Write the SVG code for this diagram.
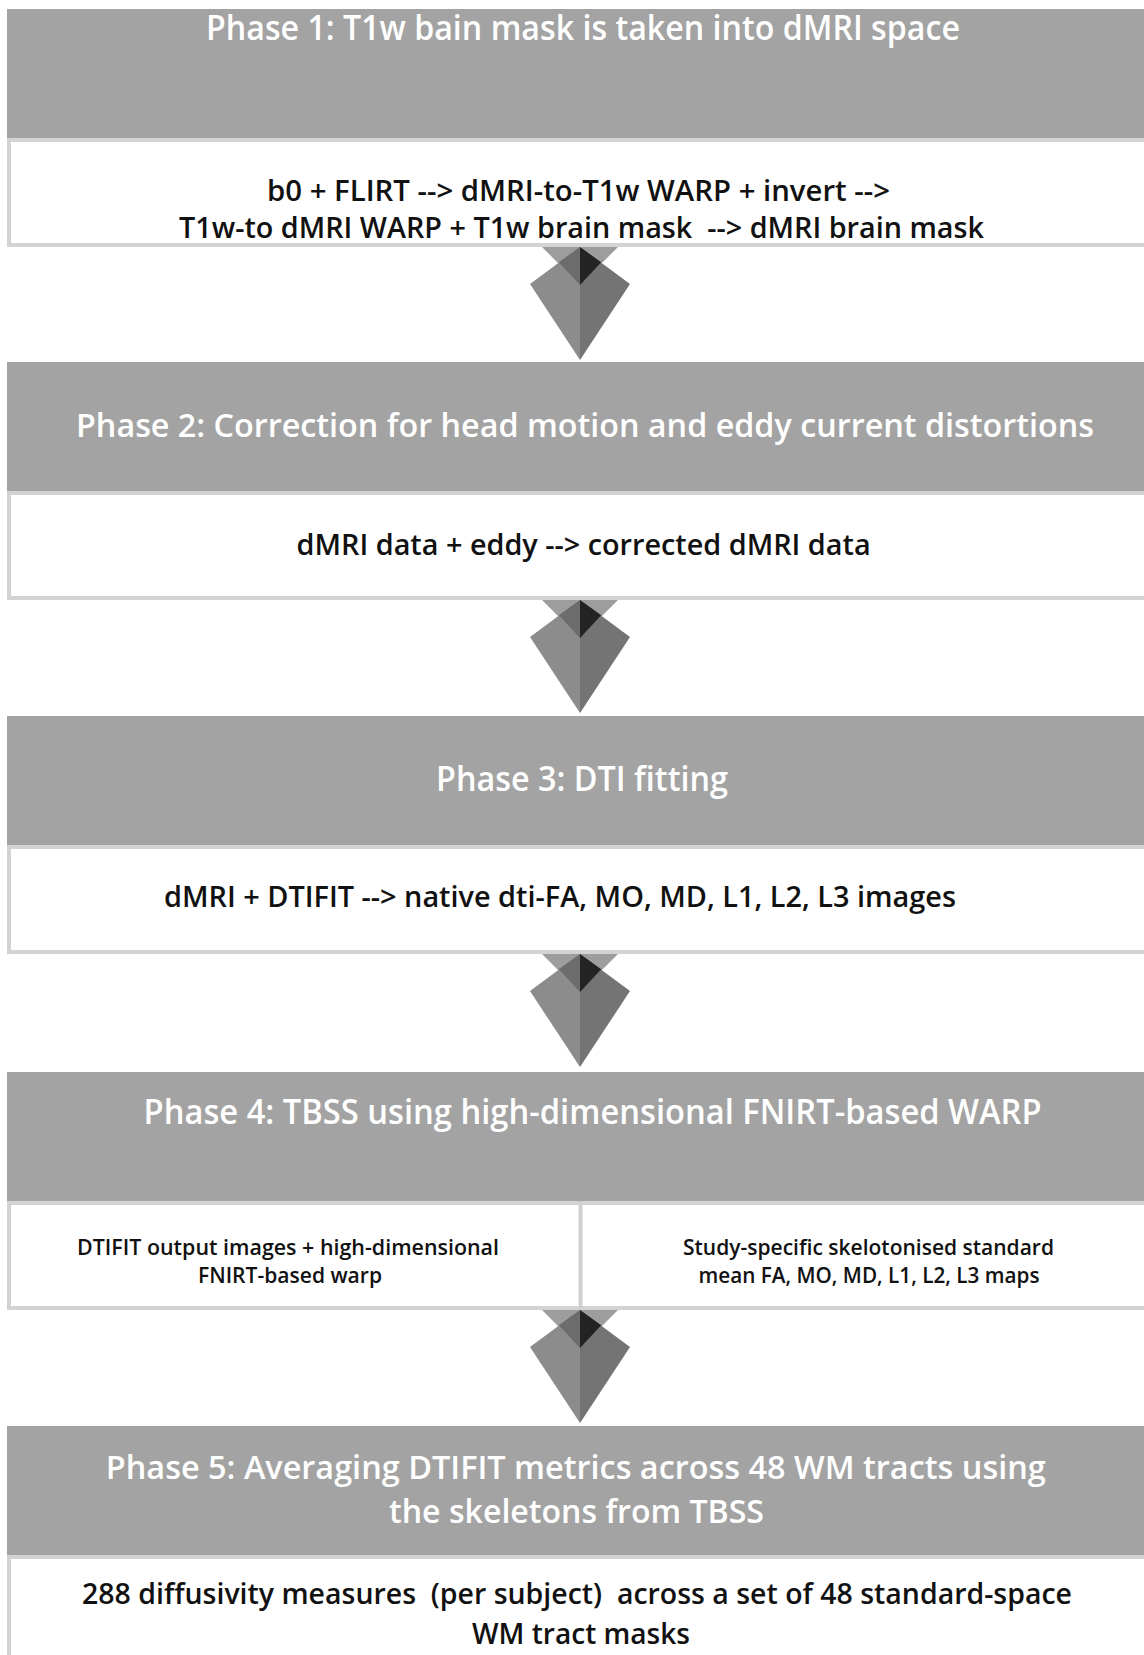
<svg xmlns="http://www.w3.org/2000/svg" xmlns:xlink="http://www.w3.org/1999/xlink" width="1144" height="1655" viewBox="0 0 1144 1655">
<style>
.hdr{fill:#a3a3a3}
.box{fill:#ffffff;stroke:#d3d3d3;stroke-width:4}
.ttl{font-family:"Open Sans","Noto Sans","Liberation Sans",sans-serif;font-size:35px;font-weight:600;fill:#ffffff;text-anchor:middle}
.txt{font-family:"Open Sans","Noto Sans","Liberation Sans",sans-serif;font-size:29px;font-weight:600;fill:#111111;text-anchor:middle}
.sm{font-family:"Open Sans","Noto Sans","Liberation Sans",sans-serif;font-size:21px;font-weight:600;fill:#111111;text-anchor:middle}
</style>
<defs>
<g id="arrow">
<polygon points="-38,0 38,0 0,38" fill="#9d9d9d"/>
<polygon points="0,0 -50,37 0,113" fill="#8c8c8c"/>
<polygon points="0,0 50,37 0,113" fill="#747474"/>
<polygon points="0,0 -21.2,15.3 0,38" fill="#6c6c6c"/>
<polygon points="0,0 21.2,15.3 0,38" fill="#232323"/>
</g>
</defs>
<rect width="1144" height="1655" fill="#ffffff"/>

<g id="phase1">
<rect class="hdr" x="7" y="9" width="1140" height="129"/>
<text class="ttl" x="583" y="40" textLength="754" lengthAdjust="spacingAndGlyphs">Phase 1: T1w bain mask is taken into dMRI space</text>
<rect class="box" x="9" y="140" width="1145" height="105"/>
<text class="txt" x="578.5" y="201" textLength="623" lengthAdjust="spacingAndGlyphs">b0 + FLIRT --&gt; dMRI-to-T1w WARP + invert --&gt;</text>
<text class="txt" x="581.5" y="238" textLength="805" lengthAdjust="spacingAndGlyphs" xml:space="preserve">T1w-to dMRI WARP + T1w brain mask  --&gt; dMRI brain mask</text>
</g>

<g id="phase2">
<rect class="hdr" x="7" y="362" width="1140" height="129"/>
<text class="ttl" x="585" y="437" textLength="1018" lengthAdjust="spacingAndGlyphs" style="font-size:33px">Phase 2: Correction for head motion and eddy current distortions</text>
<rect class="box" x="9" y="493" width="1145" height="105"/>
<text class="txt" x="583.6" y="555" textLength="574" lengthAdjust="spacingAndGlyphs">dMRI data + eddy --&gt; corrected dMRI data</text>
</g>

<g id="phase3">
<rect class="hdr" x="7" y="716" width="1140" height="129"/>
<text class="ttl" x="582" y="791" textLength="292" lengthAdjust="spacingAndGlyphs">Phase 3: DTI fitting</text>
<rect class="box" x="9" y="847" width="1145" height="105"/>
<text class="txt" x="560" y="907" textLength="792" lengthAdjust="spacingAndGlyphs">dMRI + DTIFIT --&gt; native dti-FA, MO, MD, L1, L2, L3 images</text>
</g>

<g id="phase4">
<rect class="hdr" x="7" y="1072" width="1140" height="129"/>
<text class="ttl" x="592.6" y="1124" textLength="898" lengthAdjust="spacingAndGlyphs">Phase 4: TBSS using high-dimensional FNIRT-based WARP</text>
<rect class="box" x="9" y="1203" width="1145" height="105"/>
<line x1="580.5" y1="1201" x2="580.5" y2="1310" stroke="#d0d0d0" stroke-width="4"/>
<text class="sm" x="288" y="1255" textLength="422" lengthAdjust="spacingAndGlyphs">DTIFIT output images + high-dimensional</text>
<text class="sm" x="290" y="1283" textLength="184" lengthAdjust="spacingAndGlyphs">FNIRT-based warp</text>
<text class="sm" x="868.5" y="1255" textLength="371" lengthAdjust="spacingAndGlyphs">Study-specific skelotonised standard</text>
<text class="sm" x="869" y="1283" textLength="341" lengthAdjust="spacingAndGlyphs">mean FA, MO, MD, L1, L2, L3 maps</text>
</g>

<g id="phase5">
<rect class="hdr" x="7" y="1426" width="1140" height="129"/>
<text class="ttl" style="font-size:32px"><tspan x="575.8" y="1479" textLength="940" lengthAdjust="spacingAndGlyphs">Phase 5: Averaging DTIFIT metrics across 48 WM tracts using</tspan><tspan x="576.5" y="1523" textLength="375" lengthAdjust="spacingAndGlyphs">the skeletons from TBSS</tspan></text>
<rect class="box" x="9" y="1557" width="1145" height="130"/>
<text class="txt" x="577" y="1604" textLength="990" lengthAdjust="spacingAndGlyphs" xml:space="preserve">288 diffusivity measures  (per subject)  across a set of 48 standard-space</text>
<text class="txt" x="581" y="1644" textLength="218" lengthAdjust="spacingAndGlyphs">WM tract masks</text>
</g>

<g id="connectors">
<use xlink:href="#arrow" transform="translate(580,247)"/>
<use xlink:href="#arrow" transform="translate(580,600)"/>
<use xlink:href="#arrow" transform="translate(580,954)"/>
<use xlink:href="#arrow" transform="translate(580,1310)"/>
</g>
</svg>
